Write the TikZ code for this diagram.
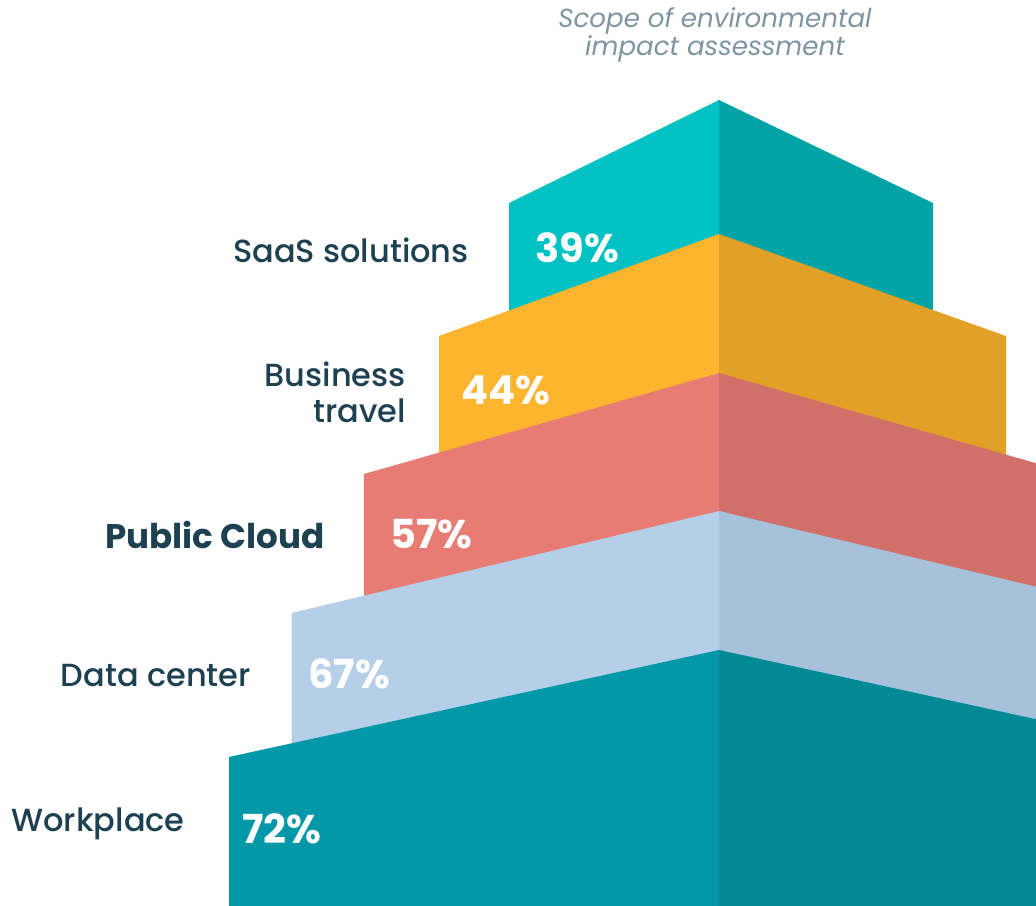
\documentclass[tikz,border=0pt]{standalone}
\usepackage{fontspec}
\setmainfont{Poppins}
\newfontfamily\popmed{Poppins Medium}
\newfontfamily\popbold{Poppins Bold}
\newfontfamily\popit{Poppins Italic}
\definecolor{saasL}{HTML}{00C2C4}
\definecolor{saasR}{HTML}{00A4A6}
\definecolor{busL}{HTML}{FDB42F}
\definecolor{busR}{HTML}{E2A027}
\definecolor{pubL}{HTML}{E67C74}
\definecolor{pubR}{HTML}{D16F69}
\definecolor{dcL}{HTML}{B5CFE9}
\definecolor{dcR}{HTML}{A8C1DA}
\definecolor{wpL}{HTML}{0398A8}
\definecolor{wpR}{HTML}{018A95}
\definecolor{labelc}{HTML}{1E4152}
\definecolor{titlec}{HTML}{7E95A2}
\tikzset{
  lbl/.style={anchor=base east, text=labelc, inner sep=0pt, font=\popmed\fontsize{24}{27}\selectfont},
  lblbold/.style={anchor=base east, text=labelc, inner sep=0pt, font=\popbold\fontsize{25.6}{30}\selectfont},
  pct/.style={anchor=base west, text=white, inner sep=0pt, font=\popbold\fontsize{30}{34}\selectfont},
  ttl/.style={anchor=north, text=titlec, inner sep=0pt, align=center, font=\popit\fontsize{19.6}{17.5}\selectfont}
}
\begin{document}
\begin{tikzpicture}[x=0.75pt,y=-0.75pt]
\useasboundingbox (0,0) rectangle (1036,906);
\clip (0,0) rectangle (1036,906);
\fill[white] (0,0) rectangle (1036,906);
% SaaS
\fill[saasL] (509,203) -- (719,100) -- (719,906) -- (509,906) -- cycle;
\fill[saasR] (719,100) -- (933,203) -- (933,906) -- (719,906) -- cycle;
% Business travel
\fill[busL] (439,336) -- (719,234) -- (719,906) -- (439,906) -- cycle;
\fill[busR] (719,234) -- (1006,336) -- (1006,906) -- (719,906) -- cycle;
% Public cloud
\fill[pubL] (364,474) -- (719,373) -- (719,906) -- (364,906) -- cycle;
\fill[pubR] (719,373) -- (1074,474) -- (1074,906) -- (719,906) -- cycle;
% Data center
\fill[dcL] (291.5,613) -- (719,511) -- (719,906) -- (291.5,906) -- cycle;
\fill[dcR] (719,511) -- (1146,613) -- (1146,906) -- (719,906) -- cycle;
% Workplace
\fill[wpL] (229,757) -- (719,650) -- (719,906) -- (229,906) -- cycle;
\fill[wpR] (719,650) -- (1209,757) -- (1209,906) -- (719,906) -- cycle;
% title
\node[ttl] (title) at (715,7) {Scope of environmental\\impact assessment};
% labels
\node[lbl] (saas) at (469,262) {SaaS solutions};
\node[lbl, align=right] (bus) at (406,422) {Business\\travel};
\node[lblbold] (pub) at (325,548) {Public Cloud};
\node[lbl] (dc) at (251,686) {Data center};
\node[lbl] (wp) at (185,831) {Workplace};
% percentages
\node[pct] (p39) at (535,262) {39\%};
\node[pct] (p44) at (461,404) {44\%};
\node[pct] (p57) at (390,548) {57\%};
\node[pct] (p67) at (308,688) {67\%};
\node[pct] (p72) at (242,843) {72\%};
\end{tikzpicture}
\end{document}
